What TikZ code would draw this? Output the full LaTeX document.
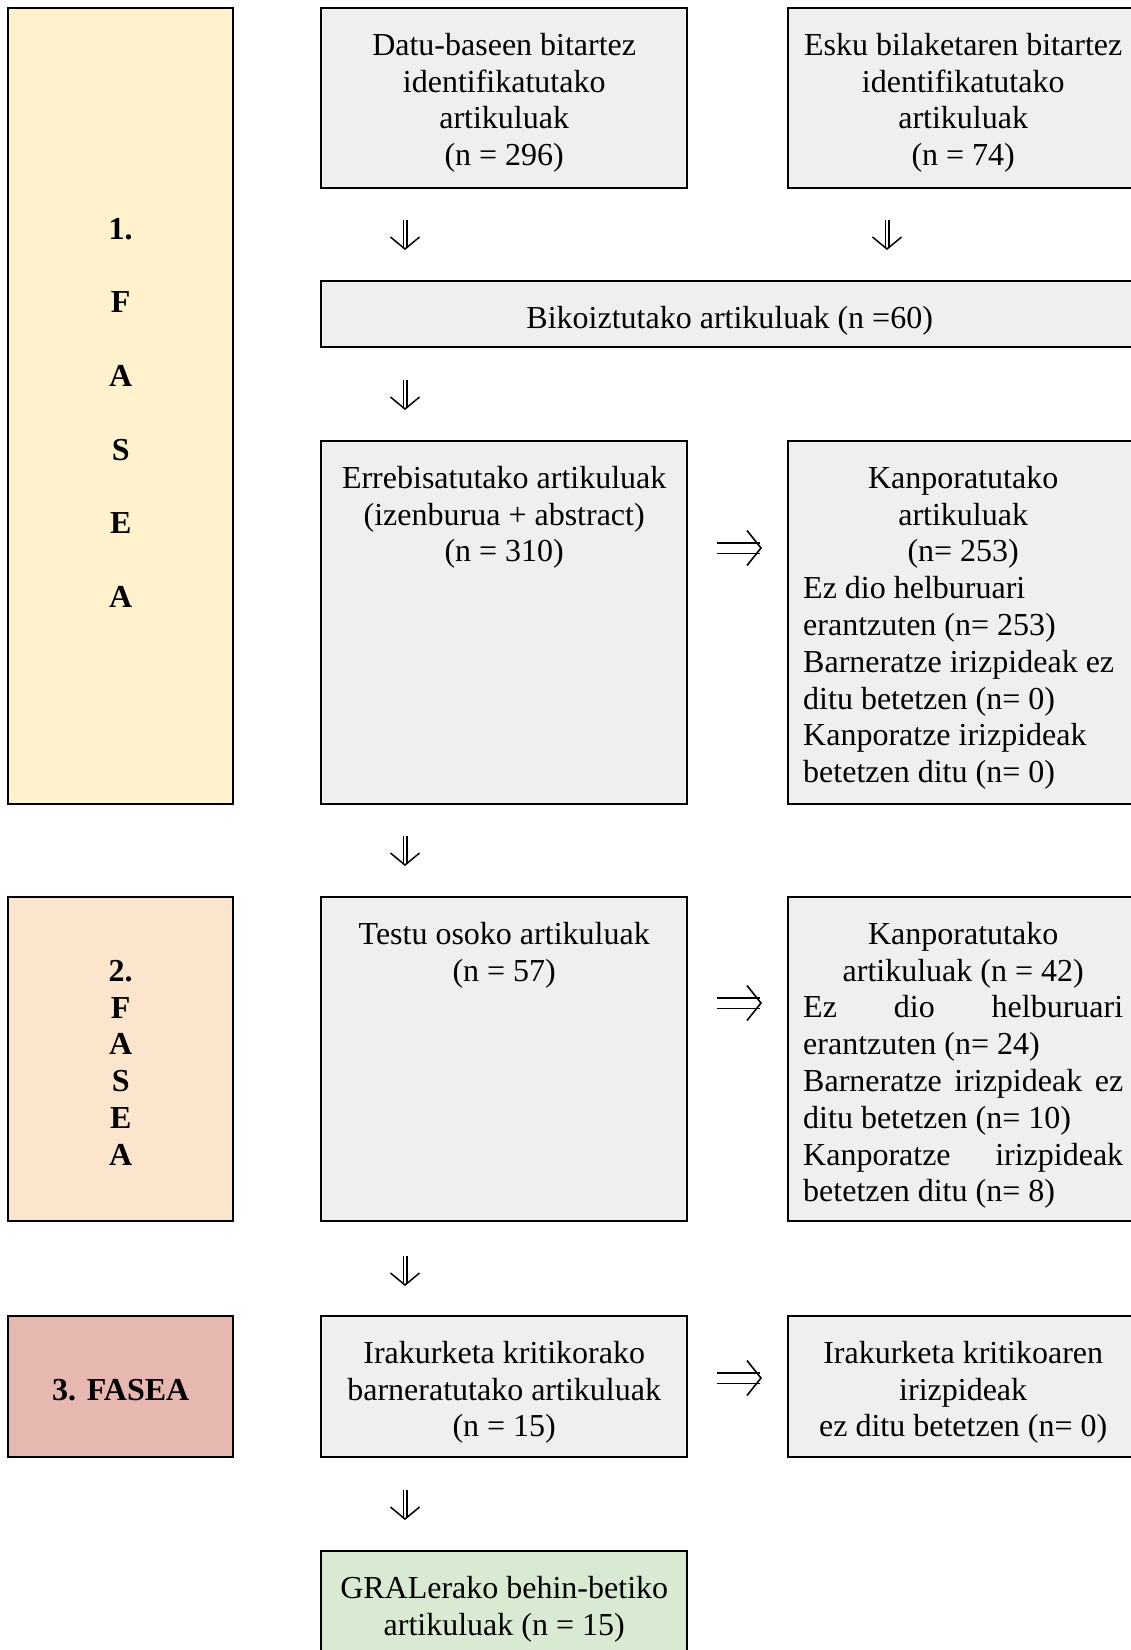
\documentclass[tikz,border=0pt]{standalone}
\usepackage{fontspec}
\setmainfont{Liberation Serif}
\usetikzlibrary{arrows.meta}
\definecolor{phaseyellow}{HTML}{FFF2CC}
\definecolor{phaseorange}{HTML}{FCE5CD}
\definecolor{phasered}{HTML}{E6B8AF}
\definecolor{finalgreen}{HTML}{D9EAD3}
\definecolor{boxgray}{HTML}{EFEFEF}
\newcommand{\boxtext}[4]{\parbox[t][#2][t]{#3}{\centering\rule{0pt}{#1}#4\par}}
\begin{document}
\begin{tikzpicture}[x=1pt, y=-1pt,
  every node/.style={font=\fontsize{32}{36.8}\selectfont},
  box/.style={draw=black, line width=2.4pt, inner xsep=15pt, inner ysep=0pt, anchor=north west, fill=boxgray},
  phasebox/.style={box, inner xsep=10pt},
  dn/.style={double=white, double distance=2.4pt, line width=1.3pt,
    -{Straight Barb[length=12pt 0 0, width=29pt 0 0, line width=1.5pt 0 0]}},
  rt/.style={double=white, double distance=9pt, line width=1.5pt,
    -{Straight Barb[length=14pt 0 0, width=35pt 0 0, line width=1.6pt 0 0]}}
]
\useasboundingbox (0,0) rectangle (1131,1650);
\clip (0,0) rectangle (1131,1650);

% phase labels
\node[phasebox, fill=phaseyellow] (f1) at (7,7)
  {\boxtext{231pt}{796pt}{205pt}{\bfseries 1.\\[36.8pt]F\\[36.8pt]A\\[36.8pt]S\\[36.8pt]E\\[36.8pt]A}};
\node[phasebox, fill=phaseorange] (f2) at (7,896)
  {\boxtext{84pt}{324pt}{205pt}{\bfseries 2.\\F\\A\\S\\E\\A}};
\node[phasebox, fill=phasered] (f3) at (7,1315)
  {\boxtext{84pt}{141pt}{205pt}{\bfseries 3. FASEA}};

% main column
\node[box] (datu) at (320,7)
  {\boxtext{47pt}{180pt}{336pt}{Datu-baseen bitartez\\identifikatutako\\artikuluak\\(n = 296)}};
\node[box] (esku) at (787,7)
  {\boxtext{47pt}{180pt}{320pt}{Esku bilaketaren bitartez\\identifikatutako\\artikuluak\\(n = 74)}};
\node[box] (bik) at (320,280)
  {\boxtext{47pt}{66pt}{787pt}{Bikoiztutako artikuluak (n =60)}};
\node[box] (errebis) at (320,440)
  {\boxtext{47pt}{363pt}{336pt}{Errebisatutako artikuluak\\(izenburua + abstract)\\(n = 310)}};
\node[box] (kanp1) at (787,440)
  {\parbox[t][363pt][t]{320pt}{\centering\rule{0pt}{47pt}Kanporatutako\\artikuluak\\(n= 253)\par
   \raggedright Ez dio helburuari\\erantzuten (n= 253)\\Barneratze irizpideak ez\\ditu betetzen (n= 0)\\Kanporatze irizpideak\\betetzen ditu (n= 0)\par}};
\node[box] (testu) at (320,896)
  {\boxtext{47pt}{324pt}{336pt}{Testu osoko artikuluak\\(n = 57)}};
\node[box] (kanp2) at (787,896)
  {\parbox[t][324pt][t]{320pt}{\centering\rule{0pt}{47pt}Kanporatutako\\artikuluak (n = 42)\par
   \raggedright Ez\hfill dio\hfill helburuari\\erantzuten (n= 24)\\Barneratze\hfill irizpideak\hfill ez\\ditu betetzen (n= 10)\\Kanporatze\hfill irizpideak\\betetzen ditu (n= 8)\par}};
\node[box] (iraku) at (320,1315)
  {\boxtext{47pt}{141pt}{336pt}{Irakurketa kritikorako\\barneratutako artikuluak\\(n = 15)}};
\node[box] (irizp) at (787,1315)
  {\boxtext{47pt}{141pt}{320pt}{Irakurketa kritikoaren\\irizpideak\\ez ditu betetzen (n= 0)}};
\node[box, fill=finalgreen] (gral) at (320,1550)
  {\boxtext{47pt}{160pt}{336pt}{GRALerako behin-betiko\\artikuluak (n = 15)}};

% downward connectors
\draw[dn, shorten <=31pt, shorten >=30pt] ([xshift=85pt]datu.south west) -- ([xshift=85pt]bik.north west);
\draw[dn, shorten <=31pt, shorten >=30pt] ([xshift=100pt]esku.south west) -- ([xshift=567pt]bik.north west);
\draw[dn, shorten <=32pt, shorten >=30pt] ([xshift=85pt]bik.south west) -- ([xshift=85pt]errebis.north west);
\draw[dn, shorten <=31pt, shorten >=30pt] ([xshift=85pt]errebis.south west) -- ([xshift=85pt]testu.north west);
\draw[dn, shorten <=34pt, shorten >=29pt] ([xshift=85pt]testu.south west) -- ([xshift=85pt]iraku.north west);
\draw[dn, shorten <=32pt, shorten >=30pt] ([xshift=85pt]iraku.south west) -- ([xshift=85pt]gral.north west);

% rightward connectors
\draw[rt, shorten <=29pt, shorten >=25pt] ([yshift=-108pt]errebis.north east) -- ([yshift=-108pt]kanp1.north west);
\draw[rt, shorten <=29pt, shorten >=25pt] ([yshift=-107pt]testu.north east) -- ([yshift=-107pt]kanp2.north west);
\draw[rt, shorten <=29pt, shorten >=25pt] ([yshift=-63pt]iraku.north east) -- ([yshift=-63pt]irizp.north west);
\end{tikzpicture}
\end{document}
